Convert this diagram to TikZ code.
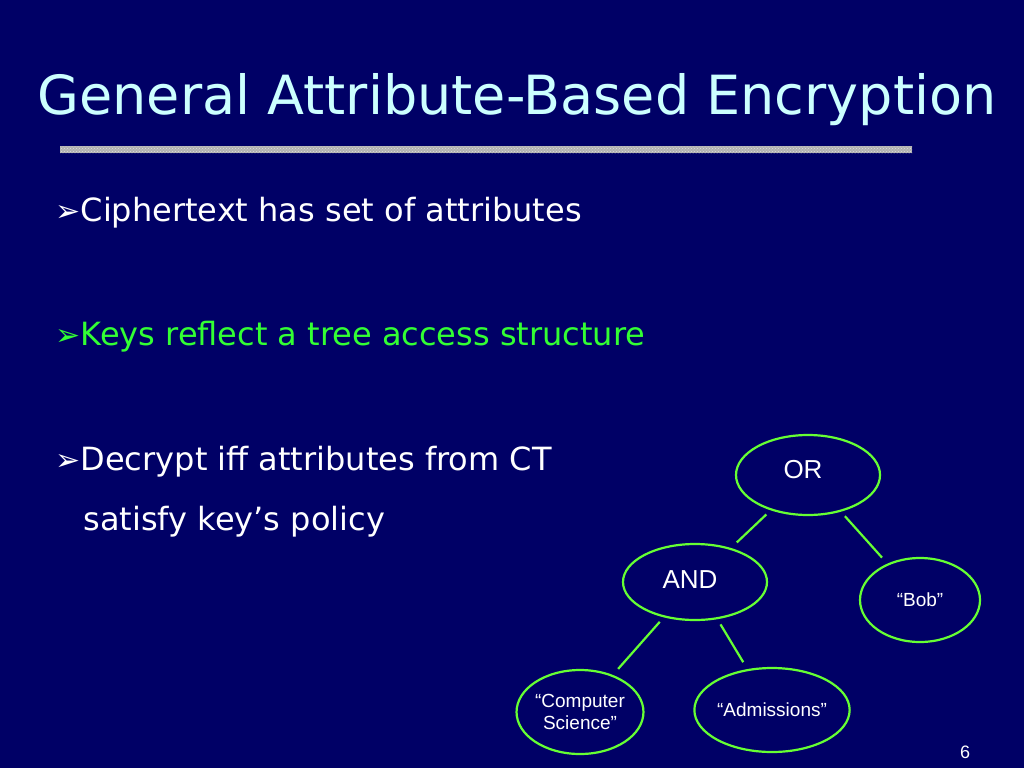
\documentclass[tikz,border=0pt]{standalone}
\usepackage{fontspec}
\setmainfont{DejaVu Sans}
\newfontfamily\arialf{Liberation Sans}
\usetikzlibrary{shapes.geometric,patterns}
\definecolor{bg}{RGB}{0,0,102}
\definecolor{ttl}{RGB}{204,255,255}
\definecolor{lime}{RGB}{102,255,51}
\definecolor{grn}{RGB}{51,255,51}
\begin{document}
\begin{tikzpicture}[x=1pt,y=-1pt,
  tn/.style={ellipse,draw=lime,line width=2.2pt,inner sep=0pt,text=white,font=\arialf\fontsize{26}{28}\selectfont},
  sn/.style={tn,font=\arialf\fontsize{19}{22}\selectfont,align=center},
  bl/.style={anchor=west,text=white,font=\fontsize{32}{36}\selectfont},
  edge/.style={lime,line width=2.2pt,shorten <=6pt,shorten >=8pt}]
\fill[bg] (0,0) rectangle (1024,768);
\node[text=ttl,font=\fontsize{54}{60}\selectfont] (title) at (517,100) {General Attribute-Based Encryption};
\fill[gray!60] (60,146) rectangle (912,153);
\fill[pattern=crosshatch dots,pattern color=gray!25] (60,146) rectangle (912,153);
\node[bl] (b1) at (52,213) {{\fontsize{30}{34}\selectfont ➢}Ciphertext has set of attributes};
\node[bl,text=grn] (b2) at (52,337) {{\fontsize{30}{34}\selectfont ➢}Keys reflect a tree access structure};
\node[bl] (b3) at (52,462) {{\fontsize{30}{34}\selectfont ➢}Decrypt iff attributes from CT};
\node[bl] (b4) at (80,522) {satisfy key’s policy};
\node[tn,minimum width=144pt,minimum height=80pt] (or) at (808,475) {};
\node[text=white,font=\arialf\fontsize{26}{28}\selectfont] (ort) at (803,470) {OR};
\node[tn,minimum width=144pt,minimum height=76pt] (and) at (695,582) {};
\node[text=white,font=\arialf\fontsize{26}{28}\selectfont] (andt) at (690,580) {AND};
\node[sn,minimum width=120pt,minimum height=84pt] (bob) at (920,600) {“Bob”};
\node[sn,minimum width=120pt,minimum height=84pt] (cs) at (580,712) {“Computer\\Science”};
\node[sn,minimum width=144pt,minimum height=84pt] (adm) at (772,710) {“Admissions”};
\draw[edge] (or) -- (and);
\draw[edge] (or) -- (bob);
\draw[edge] (and) -- (cs);
\draw[edge] (and) -- (adm);
\node[text=white,font=\arialf\fontsize{18}{20}\selectfont] (num) at (965,752) {6};
\end{tikzpicture}
\end{document}
